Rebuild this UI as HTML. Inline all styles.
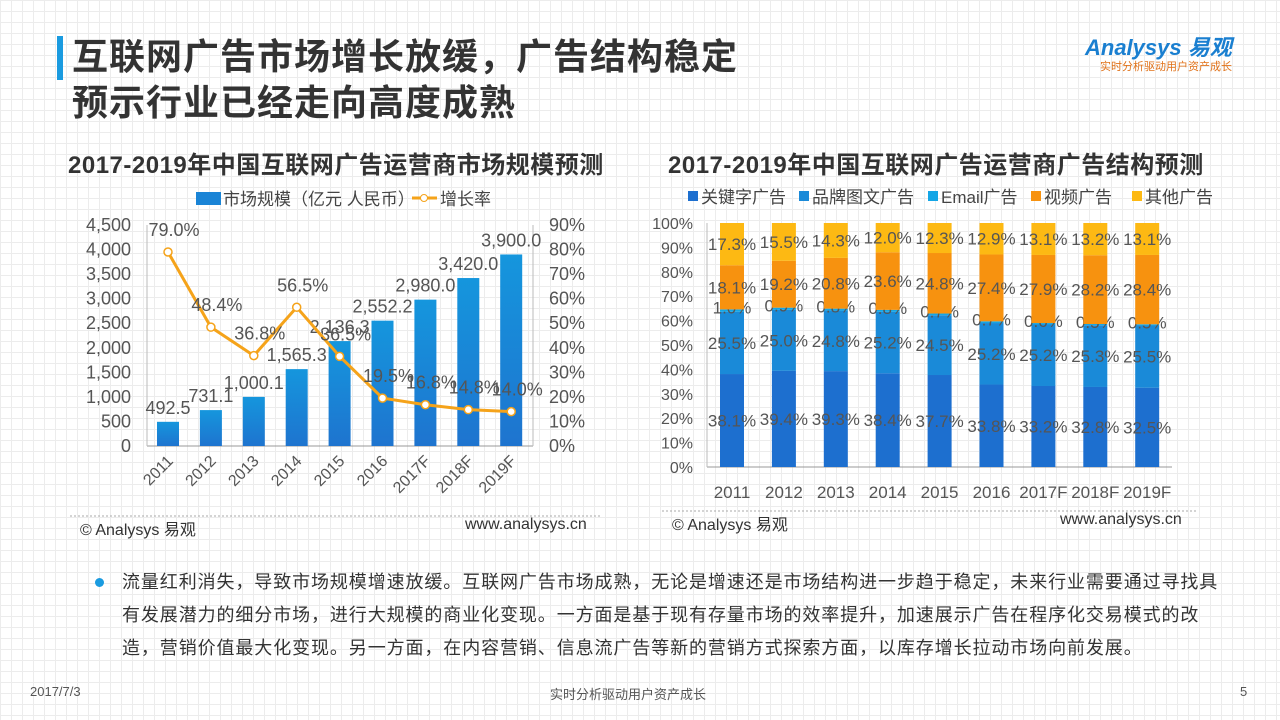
<!DOCTYPE html>
<html><head><meta charset="utf-8">
<style>
body{margin:0;width:1280px;height:720px;overflow:hidden;background:#fff;font-family:"Liberation Sans","Noto Sans CJK SC",sans-serif;position:relative;
background-image:linear-gradient(#ececec 1px,transparent 1px),linear-gradient(90deg,#ececec 1px,transparent 1px);background-size:11px 11px;}
.abs{position:absolute}
</style></head><body>
<div class="abs" style="left:57px;top:36px;width:6px;height:44px;background:#1a9be0"></div>
<div class="abs" style="left:72px;top:34px;font-size:36px;font-weight:bold;color:#333;line-height:46px;letter-spacing:1px">互联网广告市场增长放缓，广告结构稳定<br>预示行业已经走向高度成熟</div>
<div class="abs" style="left:1085px;top:30px;font-size:22px;font-weight:bold;color:#1a7fd0;font-style:italic">Analysys 易观</div>
<div class="abs" style="left:1100px;top:58px;font-size:11px;color:#e0721a">实时分析驱动用户资产成长</div>
<div class="abs" style="left:68px;top:145px;font-size:24px;font-weight:bold;color:#333;letter-spacing:0.5px">2017-2019年中国互联网广告运营商市场规模预测</div>
<div class="abs" style="left:668px;top:145px;font-size:24px;font-weight:bold;color:#333;letter-spacing:0.5px">2017-2019年中国互联网广告运营商广告结构预测</div>
<svg class="abs" style="left:0;top:0" width="1280" height="720" id="charts"></svg>
<div class="abs" style="left:95px;top:578px;width:9px;height:9px;border-radius:50%;background:#1a9be0"></div>
<div class="abs" style="left:122px;top:566px;width:1100px;font-size:18px;letter-spacing:0.9px;line-height:33px;color:#333">流量红利消失，导致市场规模增速放缓。互联网广告市场成熟，无论是增速还是市场结构进一步趋于稳定，未来行业需要通过寻找具有发展潜力的细分市场，进行大规模的商业化变现。一方面是基于现有存量市场的效率提升，加速展示广告在程序化交易模式的改造，营销价值最大化变现。另一方面，在内容营销、信息流广告等新的营销方式探索方面，以库存增长拉动市场向前发展。</div>
<div class="abs" style="left:30px;top:684px;font-size:13px;color:#555">2017/7/3</div>
<div class="abs" style="left:550px;top:684px;font-size:13px;color:#555">实时分析驱动用户资产成长</div>
<div class="abs" style="left:1240px;top:684px;font-size:13px;color:#555">5</div>
<script>
const years=["2011","2012","2013","2014","2015","2016","2017F","2018F","2019F"];
const marketSize=[492.5,731.1,1000.1,1565.3,2136.3,2552.2,2980.0,3420.0,3900.0];
const growthRate=[79.0,48.4,36.8,56.5,36.5,19.5,16.8,14.8,14.0];
const leftTicks=[0,500,1000,1500,2000,2500,3000,3500,4000,4500];
const rightTicks=[0,10,20,30,40,50,60,70,80,90];
const seriesNames=["关键字广告","品牌图文广告","Email广告","视频广告","其他广告"];
const keyword=[38.1,39.4,39.3,38.4,37.7,33.8,33.2,32.8,32.5];
const brand=[25.5,25.0,24.8,25.2,24.5,25.2,25.2,25.3,25.5];
const email=[1.0,0.9,0.8,0.8,0.7,0.7,0.6,0.5,0.5];
const video=[18.1,19.2,20.8,23.6,24.8,27.4,27.9,28.2,28.4];
const other=[17.3,15.5,14.3,12.0,12.3,12.9,13.1,13.2,13.1];
const pctTicks=[0,10,20,30,40,50,60,70,80,90,100];
const colors=["#1d6fcf","#1a8ad8","#14a6e6","#f7920f","#fdb913"];

const svg=document.getElementById('charts');
const NS="http://www.w3.org/2000/svg";
function el(t,a,txt){const e=document.createElementNS(NS,t);for(const k in a)e.setAttribute(k,a[k]);if(txt!==undefined)e.textContent=txt;svg.appendChild(e);return e;}
const fmt=v=>v.toLocaleString('en-US',{minimumFractionDigits:1,maximumFractionDigits:1});
const defs=el('defs',{});
defs.innerHTML='<linearGradient id="bg" x1="0" y1="0" x2="0" y2="1"><stop offset="0" stop-color="#1596dd"/><stop offset="1" stop-color="#1e74cf"/></linearGradient>';

// LEFT CHART
const L={x0:147,x1:533,y0:446,y1:225};
const ly=v=>L.y0-(v/4500)*(L.y0-L.y1);
const ry=v=>L.y0-(v/90)*(L.y0-L.y1);
const lx=i=>168+i*42.9;
let e;
e=el('line',{x1:L.x0,y1:L.y0,x2:L.x1,y2:L.y0,stroke:'#999'});
e=el('line',{x1:L.x0,y1:L.y0,x2:L.x0,y2:L.y1,stroke:'#bbb'});
e=el('line',{x1:L.x1,y1:L.y0,x2:L.x1,y2:L.y1,stroke:'#bbb'});
leftTicks.forEach(t=>{e=el('text',{x:131,y:ly(t)+6,'text-anchor':'end','font-size':18,fill:'#555'},t.toLocaleString('en-US'));});
rightTicks.forEach(t=>{e=el('text',{x:549,y:ry(t)+6,'text-anchor':'start','font-size':18,fill:'#555'},t+'%');});
marketSize.forEach((v,i)=>{
 e=el('rect',{x:lx(i)-11,y:ly(v),width:22,height:L.y0-ly(v),fill:'url(#bg)'});
 e=el('text',{x:lx(i),y:ly(v)-8,'text-anchor':'middle','font-size':18,fill:'#555'},fmt(v));
 e=el('text',{x:0,y:0,'text-anchor':'end','font-size':16,fill:'#555',transform:`translate(${lx(i)+6},${L.y0+16}) rotate(-45)`},years[i]);
});
e=el('polyline',{points:growthRate.map((v,i)=>lx(i)+','+ry(v)).join(' '),fill:'none',stroke:'#f5a31a','stroke-width':3});
growthRate.forEach((v,i)=>{
 e=el('circle',{cx:lx(i),cy:ry(v),r:4,fill:'#fff',stroke:'#f5a31a','stroke-width':1.5});
 e=el('text',{x:lx(i)+6,y:ry(v)-16,'text-anchor':'middle','font-size':18,fill:'#555'},v.toFixed(1)+'%');
});
e=el('rect',{x:196,y:192,width:25,height:13,fill:'#1a84d6'});
e=el('text',{x:223,y:205,'font-size':17,fill:'#444'},'市场规模（亿元 人民币）');
e=el('line',{x1:412,y1:198,x2:437,y2:198,stroke:'#f5a31a','stroke-width':3});
el('circle',{cx:424,cy:198,r:3.5,fill:'#fff',stroke:'#f5a31a'});
e=el('text',{x:440,y:205,'font-size':17,fill:'#444'},'增长率');

// RIGHT CHART
const R={x0:707,x1:1172,y0:467,y1:223};
const py=v=>R.y0-(v/100)*(R.y0-R.y1);
const px=i=>732+i*51.9;
e=el('line',{x1:R.x0,y1:R.y0,x2:R.x1,y2:R.y0,stroke:'#999'});
e=el('line',{x1:R.x0,y1:R.y0,x2:R.x0,y2:R.y1,stroke:'#bbb'});
pctTicks.forEach(t=>{e=el('text',{x:693,y:py(t)+6,'text-anchor':'end','font-size':16,fill:'#555'},t+'%');});
const series=[keyword,brand,email,video,other];
years.forEach((y,i)=>{
 let acc=0;
 series.forEach((s,k)=>{
  const v=s[i];
  e=el('rect',{x:px(i)-12,y:py(acc+v),width:24,height:py(acc)-py(acc+v),fill:colors[k]});
  const mid=k===2?py(acc+v)+4:(py(acc)+py(acc+v))/2+6;
  e=el('text',{x:px(i),y:mid,'text-anchor':'middle','font-size':17,fill:'#555'},v.toFixed(1)+'%');
  acc+=v;
 });
 e=el('text',{x:px(i),y:498,'text-anchor':'middle','font-size':17,fill:'#555'},y);
});
let lxp=688;
const legW=[100,118,92,90,90];
seriesNames.forEach((n,k)=>{
 e=el('rect',{x:lxp,y:191,width:10,height:10,fill:colors[k]});
 e=el('text',{x:lxp+13,y:203,'font-size':17,fill:'#444'},n);
 lxp+=legW[k]+11;
});
[[80,535,'© Analysys 易观',465,'www.analysys.cn'],[672,530,'© Analysys 易观',1060,'www.analysys.cn']].forEach((f,j)=>{
 e=el('line',{x1:f[0]-10,y1:f[1]-19,x2:j?1198:602,y2:f[1]-19,stroke:'#aaa','stroke-dasharray':'2,2'});
 e=el('text',{x:f[0],y:f[1],'font-size':16,fill:'#333'},f[2]);
 e=el('text',{x:f[3],y:f[1]-6,'font-size':16,fill:'#333'},f[4]);
});
</script>
</body></html>
